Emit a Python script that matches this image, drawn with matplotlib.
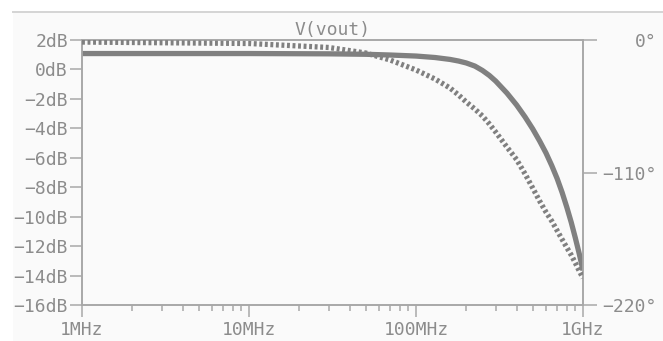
"""LTspice style Bode plot of V(vout): magnitude (solid) and phase (dotted)."""

import matplotlib

matplotlib.use("Agg")
import matplotlib.pyplot as plt
from matplotlib.lines import Line2D
from matplotlib.patches import Rectangle

# frequency points in MHz
freq_mhz = [1, 10, 30, 50, 70, 100, 130, 160, 180, 200, 225, 250, 275, 300,
            350, 400, 450, 500, 550, 600, 650, 700, 750, 800, 850, 900, 950,
            1000]
mag_db = [1.08, 1.08, 1.06, 1.03, 0.98, 0.91, 0.81, 0.68, 0.57, 0.44, 0.23,
          -0.07, -0.41, -0.79, -1.60, -2.41, -3.23, -4.04, -4.86, -5.67, -6.53,
          -7.41, -8.36, -9.36, -10.38, -11.45, -12.53, -13.65]
phase_deg = [-1.7, -2.9, -6.2, -10.8, -16.6, -24.9, -32.4, -39.9, -45.7, -51.5,
             -57.3, -63.1, -69.7, -76.4, -88.8, -99.2, -111.2, -122.9, -133.7,
             -142.8, -150.3, -158.2, -165.6, -172.3, -178.5, -185.1, -191.8,
             -197.6]

db_ticks = list(range(2, -17, -2))
db_labels = [f"{v}dB".replace("-", "\u2212") for v in db_ticks]
deg_ticks = [0, -110, -220]
deg_labels = ["0°", "\u2212110°", "\u2212220°"]
x_ticks = [1e6, 1e7, 1e8, 1e9]
x_labels = ["1MHz", "10MHz", "100MHz", "1GHz"]

BG = "#fafafa"
AXIS = "#a8a8a8"
TEXT = "#8c8c8c"
TRACE = "#808080"
FONT = "DejaVu Sans Mono"

plt.rcParams.update({
    "font.family": FONT,
    "font.size": 13,
    "axes.unicode_minus": True,
})

W, H = 663, 341
fig = plt.figure(figsize=(W / 100, H / 100), dpi=100, facecolor="white")
# screenshot panel with light top border
fig.add_artist(Rectangle((13 / W, 0), 1, 1 - 12 / H, transform=fig.transFigure,
                         facecolor=BG, edgecolor="none", zorder=-10))
fig.add_artist(Line2D([13 / W, 1], [1 - 12 / H, 1 - 12 / H], transform=fig.transFigure,
                      color="#d4d4d4", lw=1.4))

ax = fig.add_axes([82 / W, 1 - 305 / H, (583 - 82) / W, (305 - 40) / H])
ax.set_facecolor(BG)
ax2 = ax.twinx()

fhz = [f * 1e6 for f in freq_mhz]
ax.plot(fhz, mag_db, color=TRACE, lw=3.8, solid_capstyle="butt",
        solid_joinstyle="round", zorder=3)
ax2.plot(fhz, phase_deg, color=TRACE, lw=3.8, ls=(0, (0.55, 0.5)),
         dash_capstyle="butt", zorder=3)

ax.set_xscale("log")
ax.set_xlim(1e6, 1e9)
ax.set_ylim(-16, 2)
ax2.set_ylim(-220, 0)

ax.set_xticks(x_ticks)
ax.set_xticklabels(x_labels)
ax.set_yticks(db_ticks)
ax.set_yticklabels(db_labels)
ax2.set_yticks(deg_ticks)
ax2.set_yticklabels(deg_labels)

for a in (ax, ax2):
    for s in a.spines.values():
        s.set_color(AXIS)
        s.set_linewidth(1.2)

ax.tick_params(axis="x", which="major", length=8.6, width=1.1, color=AXIS,
               labelcolor=TEXT, pad=3)
ax.tick_params(axis="x", which="minor", length=4, width=1.1, color=AXIS)
ax.tick_params(axis="y", length=8.6, width=1.1, color=AXIS, labelcolor=TEXT, pad=1.5)
ax2.tick_params(axis="y", length=10, width=1.1, color=AXIS, labelcolor=TEXT, pad=43)
for lab in ax2.get_yticklabels():
    lab.set_horizontalalignment("right")

ax.set_title("V(vout)", color=TEXT, fontsize=13, pad=3.5)

fig.savefig("out.png", dpi=100, facecolor="white")
